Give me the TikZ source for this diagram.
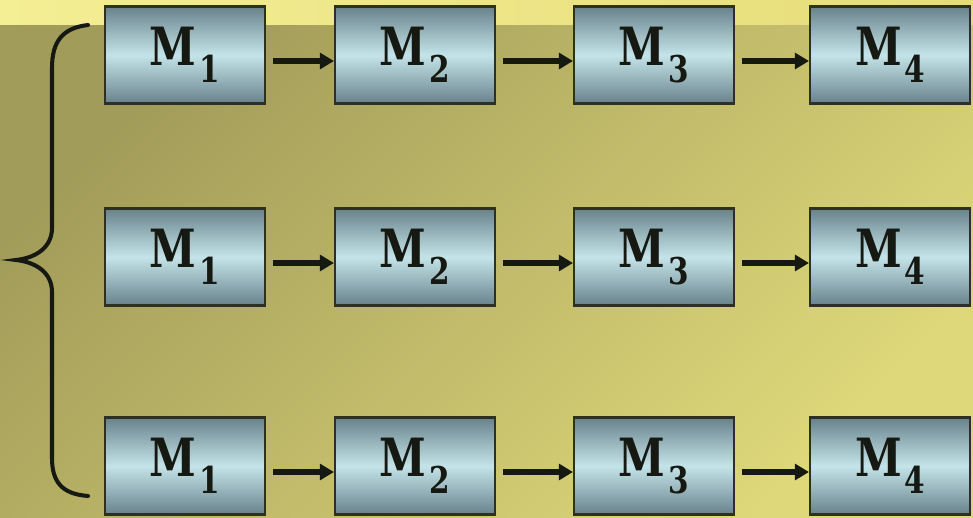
\documentclass[tikz,border=0pt]{standalone}
\usepackage{amssymb}
\usepackage{amsmath}
\usepackage{graphicx}
\usepackage{fontspec}
\newfontfamily\stagefont{DejaVu Serif}
\usetikzlibrary{arrows.meta}

\definecolor{stripleft}{RGB}{244,238,148}
\definecolor{stripright}{RGB}{230,220,122}
\definecolor{bgdark}{RGB}{162,156,90}
\definecolor{bglight}{RGB}{222,216,122}
\definecolor{boxedge}{RGB}{45,48,35}
\definecolor{boxdark}{RGB}{104,130,138}
\definecolor{boxlight}{RGB}{196,228,234}
\definecolor{ink}{RGB}{22,24,18}

\newcommand{\stagename}[1]{\scalebox{0.8}[1]{\stagefont\bfseries
  M\kern2pt\raisebox{-9.5pt}{\fontsize{21}{21}\selectfont #1}}}

\begin{document}
\begin{tikzpicture}[x=0.02cm,y=-0.02cm,
  stage/.style={draw=boxedge, line width=1.2pt, inner sep=0pt,
    minimum width=3.2cm, minimum height=1.94cm,
    top color=boxdark, bottom color=boxdark, middle color=boxlight,
    text=ink, font=\fontsize{30}{30}\selectfont},
  flow/.style={draw=ink, line width=3pt, shorten <=4pt,
    -{Triangle[length=8pt,width=9pt]}},
  bracket/.style={draw=ink, line width=2.3pt, line cap=round}]
\useasboundingbox (0,0) rectangle (973,517);
\fill[left color=stripleft, right color=stripright] (0,0) rectangle (973,26);
\fill[left color=bgdark, right color=bglight, shading angle=45] (0,26) rectangle (973,517);

\foreach \r/\y in {1/55,2/257,3/466} {
\foreach \c/\x in {1/185,2/415,3/654,4/890} {
\node[stage] (m\r\c) at (\x,\y) {\stagename{\c}};
}
\foreach \a/\b in {1/2,2/3,3/4} {
\draw[flow] ([yshift=-0.12cm]m\r\a.east) -- ([yshift=-0.12cm]m\r\b.west);
}
}

\draw[bracket] (88,25) .. controls (62,28) and (52,42) .. (52,68) -- (52,228)
  .. controls (52,248) and (35,258) .. (16,260)
  .. controls (35,262) and (52,272) .. (52,292) -- (52,458)
  .. controls (52,482) and (62,494) .. (88,496);
\end{tikzpicture}
\end{document}
